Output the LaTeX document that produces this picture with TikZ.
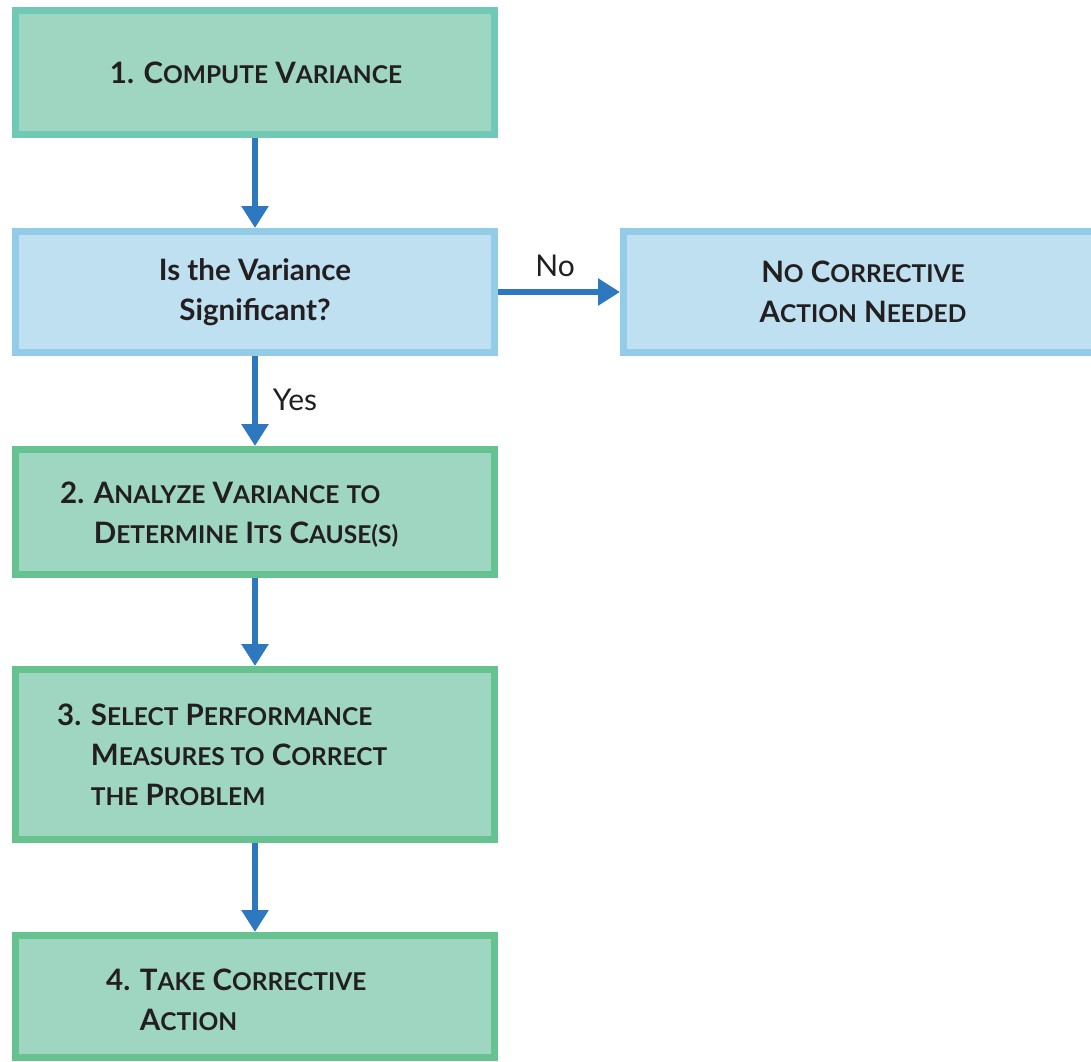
\documentclass[tikz,border=0pt]{standalone}
\usepackage{fontspec}
\setmainfont{Lato}
\usetikzlibrary{arrows.meta}
\definecolor{tealborder}{HTML}{6FC9B4}
\definecolor{greenborder}{HTML}{66C38F}
\definecolor{greenfill}{HTML}{9ED6C2}
\definecolor{blueborder}{HTML}{92CCE6}
\definecolor{bluefill}{HTML}{BEE0F0}
\definecolor{arrowblue}{HTML}{2E78BF}
\definecolor{txt}{HTML}{231F20}
\newcommand\smc{\fontsize{24.5}{40}\selectfont}
\begin{document}
\begin{tikzpicture}[x=1pt,y=-1pt,
  boxbase/.style={rectangle, line width=7pt, outer sep=3.5pt, inner sep=0pt},
  gbox/.style={boxbase, draw=greenborder, fill=greenfill},
  tbox/.style={boxbase, draw=tealborder, fill=greenfill},
  bbox/.style={boxbase, draw=blueborder, fill=bluefill},
  boxtext/.style={inner sep=0pt, text=txt, font=\fontsize{29.5}{40}\selectfont\bfseries},
  lbl/.style={inner sep=0pt, text=txt, font=\fontsize{30}{40}\selectfont},
  arr/.style={draw=arrowblue, line width=6pt, -{Triangle[width=26pt,length=22pt]}}]
\clip (0,0) rectangle (1091,1061);
\useasboundingbox (0,0) rectangle (1091,1061);
% boxes
\node[tbox, minimum width=479pt, minimum height=124pt] (b1) at (255,72.5) {};
\node[bbox, minimum width=479pt, minimum height=121pt] (q) at (255,292) {};
\node[bbox, minimum width=473pt, minimum height=121pt] (n) at (860,292) {};
\node[gbox, minimum width=479pt, minimum height=125pt] (b2) at (255,512) {};
\node[gbox, minimum width=479pt, minimum height=170pt] (b3) at (255,754.5) {};
\node[gbox, minimum width=479pt, minimum height=122pt] (b4) at (255,996.5) {};
% texts
\node[boxtext] (t1) at (256,73) {1. C{\smc OMPUTE} V{\smc ARIANCE}};
\node[boxtext, align=center] (tq) at (255,292) {Is the Variance\\Significant?};
\node[boxtext, align=center] (tn) at (863,292) {N{\smc O} C{\smc ORRECTIVE}\\A{\smc CTION} N{\smc EEDED}};
\node[boxtext, align=left, anchor=west] (t2) at (60,515) {2. A{\smc NALYZE} V{\smc ARIANCE} {\smc TO}\\\phantom{2. }D{\smc ETERMINE} I{\smc TS} C{\smc AUSE(S)}};
\node[boxtext, align=left, anchor=west] (t3) at (57,755) {3. S{\smc ELECT} P{\smc ERFORMANCE}\\\phantom{3. }M{\smc EASURES TO} C{\smc ORRECT}\\\phantom{3. }{\smc THE} P{\smc ROBLEM}};
\node[boxtext, align=left, anchor=west] (t4) at (106,1000) {4. T{\smc AKE} C{\smc ORRECTIVE}\\\phantom{4. }A{\smc CTION}};
% arrows
\draw[arr] (b1.south) -- (q.north);
\draw[arr] (q.south) -- (b2.north);
\draw[arr] (b2.south) -- (b3.north);
\draw[arr] (b3.south) -- (b4.north);
\draw[arr] (q.east) -- (n.west);
% labels
\node[lbl] (no) at (555,266) {No};
\node[lbl] (yes) at (295,400) {Yes};
\end{tikzpicture}
\end{document}
